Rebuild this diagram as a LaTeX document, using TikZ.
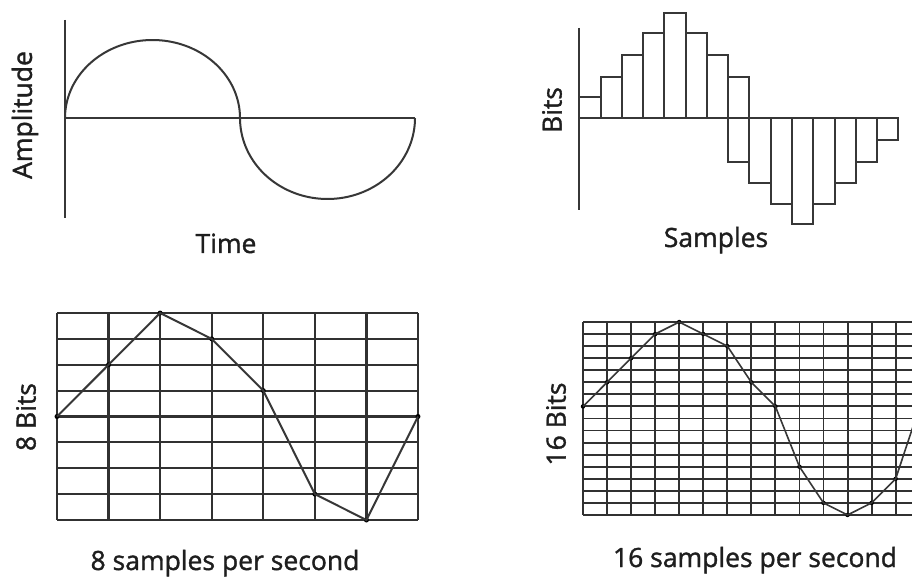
\documentclass[tikz,border=0pt]{standalone}
\usepackage{fontspec}
\setmainfont{Open Sans}
\newfontfamily\lblfont{Open Sans}[FakeBold=1.3]
\definecolor{inkc}{RGB}{55,55,55}
\definecolor{textc}{RGB}{30,30,30}
\begin{document}
\begin{tikzpicture}[x=1pt,y=-1pt,
  ink/.style={draw=inkc, line width=2pt},
  grid ink/.style={draw=inkc!90!black, line width=2.2pt},
  thin ink/.style={draw=inkc!90!black, line width=1.9pt},
  curve ink/.style={draw=inkc, line width=1.6pt},
  lbl/.style={text=textc, font=\lblfont\fontsize{26.5}{30}\selectfont, inner sep=0pt},
  dot/.style={circle, fill=black, inner sep=0pt, minimum size=5pt}]
\useasboundingbox (0,0) rectangle (912,577);
\fill[white] (0,0) rectangle (912,577);

% ---------- top left: analog wave ----------
\draw[ink] (65,20) -- (65,218);
\draw[ink] (65,118) -- (415,118);
\draw[ink] plot[domain=180:0, samples=80] ({152.5+87.5*cos(\x)},{118-78*sin(\x)});
\draw[ink] plot[domain=180:360, samples=80] ({327.5+87.5*cos(\x)},{118-81*sin(\x)});
\node[lbl, rotate=90] (amp) at (25,115) {Amplitude};
\node[lbl, anchor=base] (time) at (226,253) {Time};

% ---------- top right: bars ----------
\draw[ink] (579.3,28) -- (579.3,210);
\draw[ink] (579.3,118) -- (898.3,118);
\foreach \i/\t in {0/97,1/77,2/55,3/33,4/13,5/33,6/55,7/77}
  \draw[ink] ({579.3+21.27*\i},118) rectangle ({579.3+21.27*(\i+1)},\t);
\foreach \i/\b in {7/162,8/183,9/204,10/224,11/204,12/183,13/162,14/140}
  \draw[ink] ({579.3+21.27*\i},118) rectangle ({579.3+21.27*(\i+1)},\b);
\node[lbl, rotate=90] (bits) at (552,110) {Bits};
\node[lbl, anchor=base] (samples) at (716,247) {Samples};

% ---------- bottom left: 8 bits grid ----------
\foreach \i in {0,...,7}
  \draw[grid ink] ({57+51.57*\i},313) -- ({57+51.57*\i},520);
\foreach \j in {0,...,8}
  \draw[grid ink] (57,{313+25.875*\j}) -- (418,{313+25.875*\j});
\foreach \i/\r in {0/4,1/2,2/0,3/1,4/3,5/7,6/8,7/4}
  \node[dot] (a\i) at ({57+51.57*\i},{313+25.875*\r}) {};
\draw[ink] (a0.center) -- (a1.center) -- (a2.center) -- (a3.center) -- (a4.center)
  -- (a5.center) -- (a6.center) -- (a7.center);
\node[lbl, rotate=90] (eightbits) at (26,417) {8 Bits};
\node[lbl, anchor=base] (eightsps) at (225,570) {8 samples per second};

% ---------- bottom right: 16 bits grid ----------
\begin{scope}
\clip (580,300) rectangle (912,530);
\foreach \i in {0,...,16}
  \draw[thin ink] ({583+24.05*\i},322) -- ({583+24.05*\i},515);
\foreach \j in {0,...,16}
  \draw[thin ink] (583,{322+12.06*\j}) -- (968,{322+12.06*\j});
\foreach \i/\r in {0/7,1/5,2/3,3/1,4/0,5/1,6/2,7/5,8/7,9/12,10/15,11/16,12/15,13/13,14/7}
  \node[dot, minimum size=4.5pt] (b\i) at ({583+24.05*\i},{322+12.06*\r}) {};
\draw[curve ink] (b0.center) -- (b1.center) -- (b2.center) -- (b3.center) -- (b4.center)
  -- (b5.center) -- (b6.center) -- (b7.center) -- (b8.center) -- (b9.center)
  -- (b10.center) -- (b11.center) -- (b12.center) -- (b13.center) -- (b14.center);
\end{scope}
\node[lbl, rotate=90] (sixteenbits) at (556,424) {16 Bits};
\node[lbl, anchor=base] (sixteensps) at (755,567) {16 samples per second};
\end{tikzpicture}
\end{document}
